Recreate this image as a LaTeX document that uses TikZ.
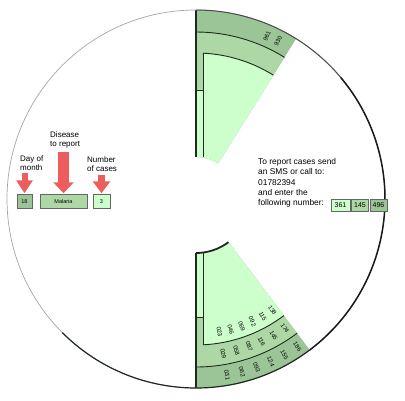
\documentclass[tikz,border=0pt]{standalone}
\usepackage{fontspec}
\setmainfont{Liberation Sans}
\usetikzlibrary{positioning, arrows.meta}

\definecolor{ringdark}{HTML}{9CC597}
\definecolor{ringmid}{HTML}{ADD8A6}
\definecolor{ringlight}{HTML}{CCFFCC}
\definecolor{rimline}{HTML}{1E2A1E}
\definecolor{arrowred}{HTML}{EE5D5D}

\begin{document}
\begin{tikzpicture}[x=1pt, y=1pt, >=Stealth,
    box/.style={draw=rimline!70, line width=0.5pt, minimum height=14pt, inner sep=0pt, font=\fontsize{5.5}{6}\selectfont},
    lbl/.style={align=left, font=\fontsize{8}{9.5}\selectfont, inner sep=0pt},
    num/.style={font=\fontsize{6}{6}\selectfont, inner sep=0pt},
    pointer/.style={arrowred, line width=6pt, -{Triangle[width=16pt, length=13pt]}},
    rim/.style={rimline, line width=1.6pt}]
    \useasboundingbox (0,0) rectangle (405,400);
    \coordinate (c) at (196,201);

    \begin{scope}[shift={(c)}]
    % top window
    \fill[ringdark] (0,42) -- (0,189) arc[start angle=90, end angle=58, radius=189] -- (58:42) arc[start angle=58, end angle=90, radius=42] -- cycle;
    \fill[ringmid] (0,42) -- (0,167) arc[start angle=90, end angle=58, radius=167] -- (58:42) arc[start angle=58, end angle=90, radius=42] -- cycle;
    \fill[ringlight] (0,42) -- (0,109) -- (7,109) -- (87.25:146) arc[start angle=87.25, end angle=58, radius=146] -- (58:42) arc[start angle=58, end angle=90, radius=42] -- cycle;
    \draw[rim] (0,42) -- (0,189);
    \draw[rimline, line width=0.9pt] (0,167) arc[start angle=90, end angle=58, radius=167];
    \draw[rimline, line width=0.9pt] (87.25:146) arc[start angle=87.25, end angle=58, radius=146];
    \draw[rimline, line width=0.5pt] (7,42) -- (7,146);
    \draw[rimline, line width=0.8pt] (0,109) -- (7,109);
    \node[num, rotate=66.5] (top1) at (66.5:178) {961};
    \node[num, rotate=62.5] (top2) at (62.5:178) {930};

    % bottom window
    \fill[ringdark] (0,-54) -- (0,-189) arc[start angle=-90, end angle=-53, radius=189] -- (-53:54) arc[start angle=-53, end angle=-90, radius=54] -- cycle;
    \fill[ringmid] (0,-54) -- (0,-168) arc[start angle=-90, end angle=-53, radius=168] -- (-53:54) arc[start angle=-53, end angle=-90, radius=54] -- cycle;
    \fill[ringlight] (0,-54) -- (0,-118) -- (7,-118) -- (-87.25:146) arc[start angle=-87.25, end angle=-53, radius=146] -- (-53:54) arc[start angle=-53, end angle=-90, radius=54] -- cycle;
    \draw[rim] (0,-54) -- (0,-189);
    \draw[rimline, line width=1.8pt] (0,-54) arc[start angle=-90, end angle=-53, radius=54];
    \draw[rimline, line width=0.9pt] (0,-168) arc[start angle=-90, end angle=-53, radius=168];
    \draw[rimline, line width=0.9pt] (-87.25:146) arc[start angle=-87.25, end angle=-53, radius=146];
    \draw[rimline, line width=0.5pt] (7,-54) -- (7,-146);
    \draw[rimline, line width=0.8pt] (0,-118) -- (7,-118);
    \foreach \p/\q/\r [count=\k] in {023/029/031, 046/058/062, 069/087/093, 092/116/124, 115/145/155, 138/174/186} {
        \pgfmathsetmacro{\a}{-84.9+4.9*\k}
        \node[num, rotate=\a] (inner\k) at (\a:135) {\p};
        \node[num, rotate=\a] (middle\k) at (\a:157) {\q};
        \node[num, rotate=\a] (outer\k) at (\a:179) {\r};
    }

    % rim of the wheel
    \draw[gray!70, line width=0.7pt] (0,0) circle[radius=189];
    \draw[black!70, line width=1pt] (90:189) arc[start angle=90, end angle=40, radius=189];
    \draw[black!90, line width=1.5pt] (40:189) arc[start angle=40, end angle=-53, radius=189];
    \draw[rimline, line width=1.2pt] (-53:189) arc[start angle=-53, end angle=-135, radius=189];
    \end{scope}

    % entry fields
    \node[box, fill=ringdark, minimum width=15pt] (daybox) at (24.5,198.5) {18};
    \node[box, fill=ringmid, minimum width=47pt] (disbox) at (63.5,198.5) {Malaria};
    \node[box, fill=ringlight, minimum width=17pt] (casebox) at (101.5,198.5) {3};
    \node[lbl, anchor=north west] (daylbl) at (20,244.5) {Day of\\month};
    \node[lbl, anchor=north west] (dislbl) at (50,268.5) {Disease\\to report};
    \node[lbl, anchor=north west] (caselbl) at (87,243.5) {Number\\of cases};
    \draw[pointer, shorten <=2pt, shorten >=1pt] (daybox.north |- daylbl.south) -- (daybox.north);
    \draw[pointer, line width=11pt, -{Triangle[width=20pt, length=11pt]}, shorten <=3pt, shorten >=1pt] (disbox.north |- dislbl.south) -- (disbox.north);
    \draw[pointer, line width=7pt, -{Triangle[width=17pt, length=12pt]}, shorten <=3pt, shorten >=1pt] (casebox.north |- caselbl.south) -- (casebox.north);

    % instructions
    \node[lbl, anchor=north west, font=\fontsize{8.4}{10.2}\selectfont] (howto) at (258,241.5) {To report cases send\\an SMS or call to:\\01782394\\and enter the\\following number:};
    \node[box, fill=ringlight, minimum width=19pt, minimum height=12pt, font=\fontsize{7}{7}\selectfont] (code1) at (340.5,195) {361};
    \node[box, fill=ringmid, minimum width=17pt, minimum height=12pt, font=\fontsize{7}{7}\selectfont, right=1pt of code1] (code2) {145};
    \node[box, fill=ringdark, minimum width=17pt, minimum height=12pt, font=\fontsize{7}{7}\selectfont, right=1pt of code2] (code3) {496};
\end{tikzpicture}
\end{document}
